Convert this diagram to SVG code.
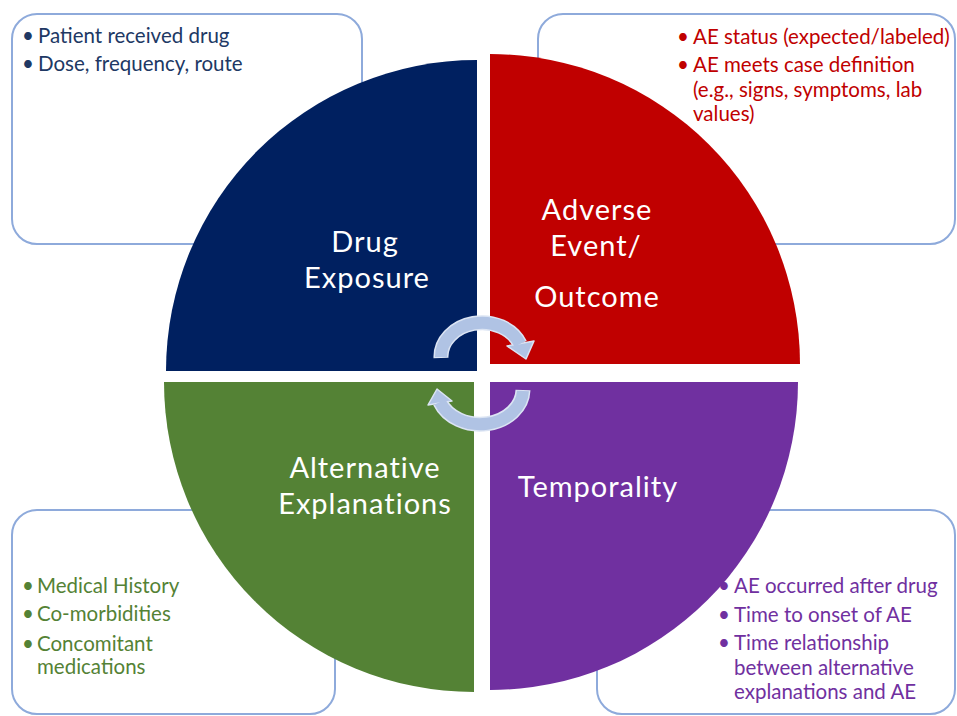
<svg xmlns="http://www.w3.org/2000/svg" width="957" height="716" viewBox="0 0 957 716">
  <style>
    .box { fill: #ffffff; stroke: #8eaadb; stroke-width: 2; }
    .note { font-family: Lato, "Open Sans", "Liberation Sans", sans-serif; font-size: 20.5px; }
    .blue { fill: #203864; }
    .red { fill: #c00000; }
    .green { fill: #548235; }
    .purple { fill: #7030a0; }
    .label { font-family: Lato, "Open Sans", "Liberation Sans", sans-serif; font-size: 29px; letter-spacing: 1px; fill: #ffffff; text-anchor: middle; }
    .cyc-edge { fill: none; stroke: #dbe4f3; stroke-width: 15; }
    .cyc-core { fill: none; stroke: #b0c3e4; stroke-width: 12; }
    .cyc-head { fill: #b0c3e4; stroke: #dbe4f3; stroke-width: 1.5; stroke-linejoin: round; }
  </style>

  <rect width="957" height="716" fill="#ffffff"/>

  <!-- detail boxes behind the wheel -->
  <g id="box-drug-exposure">
    <rect class="box" x="12" y="14" width="350" height="230" rx="25"/>
    <g class="note blue">
      <text x="22" y="43">•</text><text x="38" y="43">Patient received drug</text>
      <text x="22" y="71">•</text><text x="38" y="71">Dose, frequency, route</text>
    </g>
  </g>

  <g id="box-adverse-event">
    <rect class="box" x="538" y="14" width="417" height="230" rx="25"/>
    <g class="note red">
      <text x="677" y="44">•</text><text x="693" y="44">AE status (expected/labeled)</text>
      <text x="677" y="72">•</text><text x="693" y="72">AE meets case definition</text>
      <text x="693" y="97">(e.g., signs, symptoms, lab</text>
      <text x="693" y="121">values)</text>
    </g>
  </g>

  <g id="box-alternative-explanations">
    <rect class="box" x="12" y="510" width="323" height="204" rx="25"/>
    <g class="note green">
      <text x="22" y="593">•</text><text x="37" y="593">Medical History</text>
      <text x="22" y="621">•</text><text x="37" y="621">Co-morbidities</text>
      <text x="22" y="651">•</text><text x="37" y="651">Concomitant</text>
      <text x="37" y="674">medications</text>
    </g>
  </g>

  <g id="box-temporality">
    <rect class="box" x="597" y="510" width="358" height="204" rx="25"/>
    <g class="note purple">
      <text x="718" y="593">•</text><text x="734" y="593">AE occurred after drug</text>
      <text x="718" y="622">•</text><text x="734" y="622">Time to onset of AE</text>
      <text x="718" y="650">•</text><text x="734" y="650">Time relationship</text>
      <text x="734" y="675">between alternative</text>
      <text x="734" y="699">explanations and AE</text>
    </g>
  </g>

  <!-- wheel quadrants -->
  <g id="quadrant-drug-exposure">
    <path d="M477 371 L166 371 A311 311 0 0 1 477 60 Z" fill="#002060"/>
    <text class="label" x="365" y="252">Drug</text>
    <text class="label" x="367" y="288">Exposure</text>
  </g>

  <g id="quadrant-adverse-event">
    <path d="M490 364 L490 54 A310 310 0 0 1 800 364 Z" fill="#c00000"/>
    <text class="label" x="597" y="220">Adverse</text>
    <text class="label" x="596" y="256">Event/</text>
    <text class="label" x="597" y="307">Outcome</text>
  </g>

  <g id="quadrant-alternative-explanations">
    <path d="M474 382 L474 692 A310 310 0 0 1 164 382 Z" fill="#548235"/>
    <text class="label" x="365" y="478">Alternative</text>
    <text class="label" x="365" y="514">Explanations</text>
  </g>

  <g id="quadrant-temporality">
    <path d="M490 382 L798 382 A308 308 0 0 1 490 690 Z" fill="#7030a0"/>
    <text class="label" x="598" y="497">Temporality</text>
  </g>

  <!-- cycle arrows in the middle of the wheel -->
  <g id="connectors">
    <g id="cycle-top">
      <path class="cyc-edge" d="M441 358 A41 34 0 0 1 520 344"/>
      <polygon class="cyc-head" points="507,346 534,341 526,359"/>
      <path class="cyc-core" d="M441 357 A41 34 0 0 1 520 344"/>
    </g>
    <g id="cycle-bottom">
      <path class="cyc-edge" d="M523 390 A43 35 0 0 1 440 402"/>
      <polygon class="cyc-head" points="452,401 428,405 437,389"/>
      <path class="cyc-core" d="M523 391 A43 35 0 0 1 440 402"/>
    </g>
  </g>
</svg>
